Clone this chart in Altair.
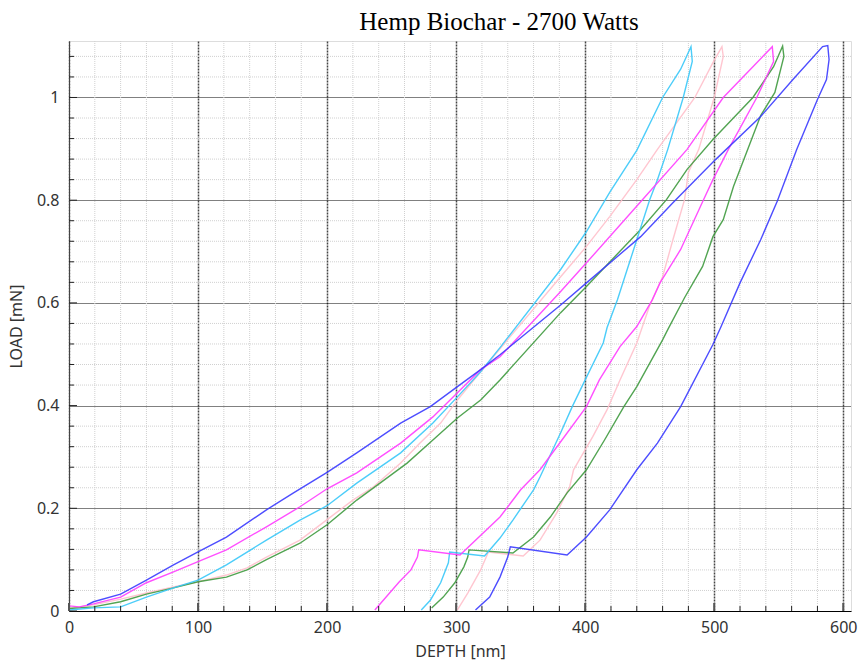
import altair as alt
import pandas as pd

# ---------------- data ----------------
series_names = ["Indent 1", "Indent 2", "Indent 3", "Indent 4", "Indent 5"]
series_colors = ["#ffc0cb", "#3f9a3f", "#38c8f8", "#ff3cff", "#3a3aff"]

# Indent 1 (pink)
pink_depth = [0, 19, 40, 60, 81, 100, 122, 138, 153, 179, 200, 220, 236, 257, 272, 288, 301, 319, 381, 401, 419, 440, 456, 485, 499, 506,
              507, 500, 488, 480, 477, 468, 460, 450, 440, 427, 417, 406, 391, 388, 378, 365, 352, 325, 319, 309, 301]
pink_load = [0.005, 0.012, 0.023, 0.035, 0.047, 0.057, 0.07, 0.084, 0.105, 0.138, 0.178, 0.216, 0.242, 0.288, 0.327, 0.366, 0.411, 0.466, 0.651, 0.71, 0.768, 0.84, 0.899, 1.0, 1.068, 1.099,
             1.08, 1.0, 0.899, 0.854, 0.801, 0.723, 0.651, 0.595, 0.522, 0.45, 0.392, 0.34, 0.275, 0.242, 0.191, 0.138, 0.107, 0.115, 0.08, 0.035, 0.002]

# Indent 2 (green)
green_depth = [0, 19, 40, 60, 81, 100, 122, 138, 153, 179, 200, 223, 241, 262, 282, 301, 319, 334, 381, 401, 443, 463, 479, 499, 530, 546, 553,
               554, 547, 536, 526, 515, 507, 499, 491, 477, 464, 460, 440, 430, 415, 401, 386, 373, 360, 344, 310, 309, 306, 299, 290, 281]
green_load = [0.005, 0.008, 0.018, 0.033, 0.045, 0.057, 0.066, 0.08, 0.1, 0.132, 0.168, 0.216, 0.249, 0.288, 0.333, 0.376, 0.411, 0.45, 0.581, 0.632, 0.743, 0.801, 0.86, 0.918, 1.0, 1.06, 1.1,
              1.08, 1.01, 0.965, 0.899, 0.827, 0.762, 0.729, 0.671, 0.61, 0.548, 0.528, 0.437, 0.398, 0.333, 0.275, 0.23, 0.183, 0.144, 0.113, 0.119, 0.105, 0.086, 0.055, 0.027, 0.006]

# Indent 3 (cyan)
cyan_depth = [0, 19, 40, 60, 81, 100, 122, 153, 179, 200, 223, 257, 282, 301, 319, 334, 381, 401, 419, 440, 460, 474, 482,
              483, 476, 464, 456, 450, 440, 430, 425, 417, 414, 400, 390, 381, 365, 360, 344, 334, 322, 295, 294, 288, 280, 273]
cyan_load = [0.002, 0.006, 0.008, 0.027, 0.045, 0.06, 0.09, 0.138, 0.177, 0.205, 0.249, 0.308, 0.366, 0.417, 0.466, 0.513, 0.665, 0.739, 0.815, 0.897, 1.0, 1.055, 1.099,
             1.07, 1.0, 0.899, 0.84, 0.801, 0.723, 0.645, 0.606, 0.552, 0.522, 0.45, 0.398, 0.347, 0.261, 0.236, 0.177, 0.142, 0.107, 0.115, 0.094, 0.055, 0.021, 0.002]

# Indent 4 (magenta)
magenta_depth = [0, 8, 19, 40, 60, 81, 100, 122, 153, 179, 200, 223, 257, 282, 301, 319, 334, 381, 401, 443, 479, 507, 530, 545,
                 546, 533, 511, 499, 491, 474, 458, 452, 440, 427, 411, 401, 382, 365, 350, 334, 303, 271, 270, 265, 256, 237]
magenta_load = [0.01, 0.008, 0.014, 0.027, 0.055, 0.076, 0.096, 0.119, 0.164, 0.203, 0.238, 0.269, 0.327, 0.378, 0.425, 0.47, 0.495, 0.622, 0.678, 0.797, 0.899, 1.0, 1.06, 1.099,
                1.07, 1.0, 0.899, 0.84, 0.797, 0.704, 0.639, 0.606, 0.554, 0.515, 0.45, 0.398, 0.333, 0.275, 0.236, 0.183, 0.109, 0.119, 0.105, 0.08, 0.057, 0.002]

# Indent 5 (blue)
blue_depth = [14, 19, 40, 60, 81, 100, 122, 153, 174, 200, 223, 257, 280, 301, 319, 334, 381, 401, 443, 468, 501, 536, 561, 584, 588,
              589, 587, 580, 564, 549, 536, 520, 505, 499, 474, 456, 440, 419, 401, 386, 342, 340, 334, 326, 315]
blue_load = [0.012, 0.018, 0.033, 0.06, 0.09, 0.115, 0.144, 0.197, 0.23, 0.27, 0.308, 0.366, 0.398, 0.437, 0.47, 0.499, 0.596, 0.639, 0.729, 0.795, 0.879, 0.963, 1.035, 1.099, 1.101,
             1.074, 1.035, 0.996, 0.899, 0.799, 0.723, 0.639, 0.552, 0.519, 0.398, 0.327, 0.275, 0.197, 0.144, 0.109, 0.125, 0.105, 0.066, 0.027, 0.002]

x_major = [0, 100, 200, 300, 400, 500, 600]
y_major = [0, 0.2, 0.4, 0.6, 0.8, 1.0]
x_minor = [v for v in range(0, 607, 20) if v % 100 != 0]
y_minor = [round(i * 0.04, 2) for i in range(0, 28) if i % 5 != 0]

all_depth = [pink_depth, green_depth, cyan_depth, magenta_depth, blue_depth]
all_load = [pink_load, green_load, cyan_load, magenta_load, blue_load]

rows = []
for name, d, l in zip(series_names, all_depth, all_load):
    for i, (dv, lv) in enumerate(zip(d, l)):
        rows.append({"series": name, "i": i, "depth": dv, "load": lv})
df = pd.DataFrame(rows)

xscale = alt.Scale(domain=[0, 606], nice=False, zero=False)
yscale = alt.Scale(domain=[0, 1.11], nice=False, zero=False)

FONT = "Noto Sans"

x_axis = alt.Axis(values=x_major, title="DEPTH [nm]", grid=True, gridColor="#444",
                  gridDash=[2, 1], gridWidth=1.5, ticks=False, domainColor="#000",
                  labelFont=FONT, labelFontSize=16, labelColor="#333", labelPadding=8,
                  titleFont=FONT, titleFontSize=16, titleFontWeight="normal", titleColor="#333",
                  titlePadding=8, labelFlush=False)
y_axis = alt.Axis(values=y_major, title="LOAD [mN]", format=".1~f", grid=True, gridColor="#000",
                  gridDash=[1, 1], gridWidth=1.2, ticks=False, domainColor="#444",
                  labelFont=FONT, labelFontSize=16, labelColor="#333", labelPadding=10,
                  titleFont=FONT, titleFontSize=16, titleFontWeight="normal", titleColor="#333",
                  titlePadding=12, labelFlush=False)

# minor grid
minor_x = alt.Chart(pd.DataFrame({"v": x_minor})).mark_rule(
    color="#d0d0d0", strokeDash=[1, 1], strokeWidth=1
).encode(x=alt.X("v:Q", scale=xscale, axis=x_axis))
minor_y = alt.Chart(pd.DataFrame({"v": y_minor})).mark_rule(
    color="#d0d0d0", strokeDash=[1, 1], strokeWidth=1
).encode(y=alt.Y("v:Q", scale=yscale, axis=y_axis))

# inward ticks
tick_y_minor = alt.Chart(pd.DataFrame({"v": y_minor})).mark_rule(color="#222", strokeWidth=1).encode(
    y=alt.Y("v:Q", scale=yscale, axis=y_axis), x=alt.value(0), x2=alt.value(5))
tick_y_major = alt.Chart(pd.DataFrame({"v": y_major})).mark_rule(color="#222", strokeWidth=1).encode(
    y=alt.Y("v:Q", scale=yscale, axis=y_axis), x=alt.value(0), x2=alt.value(8))
tick_x_minor = alt.Chart(pd.DataFrame({"v": x_minor})).mark_rule(color="#222", strokeWidth=1).encode(
    x=alt.X("v:Q", scale=xscale, axis=x_axis), y=alt.value(570), y2=alt.value(565))
tick_x_major = alt.Chart(pd.DataFrame({"v": x_major})).mark_rule(color="#555", strokeWidth=2).encode(
    x=alt.X("v:Q", scale=xscale, axis=x_axis), y=alt.value(570), y2=alt.value(562))

lines = alt.Chart(df).mark_line(strokeWidth=1.4, opacity=0.9, clip=True).encode(
    x=alt.X("depth:Q", scale=xscale, axis=x_axis),
    y=alt.Y("load:Q", scale=yscale, axis=y_axis),
    color=alt.Color("series:N", scale=alt.Scale(domain=series_names, range=series_colors), legend=None),
    order=alt.Order("i:Q"),
    detail="series:N",
)

chart = alt.layer(
    minor_x, minor_y, lines, tick_y_minor, tick_y_major, tick_x_minor, tick_x_major
).properties(
    width=782, height=570,
    title=alt.TitleParams("Hemp Biochar - 2700 Watts", font="Liberation Serif", fontSize=25,
                          fontWeight="normal", color="#000", dx=39, offset=6),
    autosize=alt.AutoSizeParams(type="none"),
    padding={"left": 69, "top": 41, "right": 12, "bottom": 59},
).configure_view(stroke="#555", strokeWidth=1).configure(background="white")

chart.save("out.html", embed_options={"renderer": "svg", "actions": False})
